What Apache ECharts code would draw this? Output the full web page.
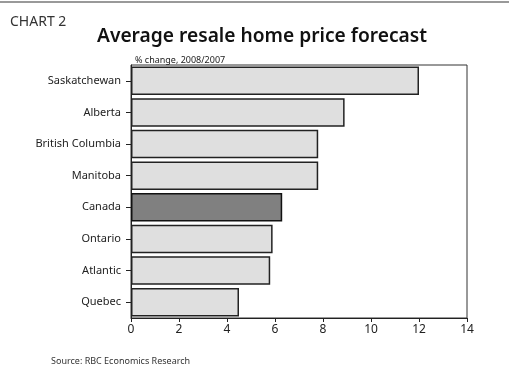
<!DOCTYPE html>
<html>
<head>
<meta charset="utf-8">
<script src="https://cdn.jsdelivr.net/npm/echarts@6/dist/echarts.min.js"></script>
<style>
  html, body { margin: 0; padding: 0; background: #fff; }
  #chart { width: 509px; height: 370px; }
</style>
</head>
<body>
<div id="chart"></div>
<script>
// Provinces / regions, top to bottom
const regions = ['Saskatchewan', 'Alberta', 'British Columbia', 'Manitoba', 'Canada', 'Ontario', 'Atlantic', 'Quebec'];
// Forecast % change in average resale home price, 2008 over 2007
const priceChange = [12.0, 8.9, 7.8, 7.8, 6.3, 5.9, 5.8, 4.5];
// Horizontal axis ticks
const xTicks = [0, 2, 4, 6, 8, 10, 12, 14];

const FONT = 'Noto Sans';
const chart = echarts.init(document.getElementById('chart'), null, { renderer: 'canvas' });

chart.setOption({
  animation: false,
  backgroundColor: '#ffffff',
  title: [
    { text: 'CHART 2', left: 5, top: 10,
      textStyle: { fontFamily: FONT, fontSize: 14, fontWeight: 'normal', color: '#333' } },
    { text: 'Average resale home price forecast', left: 92, top: 22,
      textStyle: { fontFamily: FONT, fontSize: 19.2, fontWeight: 600, color: '#111' } },
    { text: '% change, 2008/2007', left: 130, top: 51,
      textStyle: { fontFamily: FONT, fontSize: 9, fontWeight: 'normal', color: '#222' } },
    { text: 'Source: RBC Economics Research', left: 46, top: 352,
      textStyle: { fontFamily: FONT, fontSize: 9, fontWeight: 'normal', color: '#333' } }
  ],
  graphic: [
    { type: 'line', shape: { x1: 0, y1: 2, x2: 509, y2: 2 },
      style: { stroke: '#777', lineWidth: 1.5 } }
  ],
  grid: {
    left: 131, right: 42, top: 65, bottom: 52,
    show: true, borderColor: '#333', borderWidth: 1, backgroundColor: 'transparent'
  },
  xAxis: {
    type: 'value',
    min: xTicks[0], max: xTicks[xTicks.length - 1], interval: 2,
    axisLine: { show: true, lineStyle: { color: '#222', width: 1 } },
    axisTick: { show: true, length: 4, lineStyle: { color: '#222' } },
    axisLabel: { fontFamily: FONT, fontSize: 12, color: '#222', margin: 6 },
    splitLine: { show: false }
  },
  yAxis: {
    type: 'category',
    data: regions,
    inverse: true,
    axisLine: { show: true, lineStyle: { color: '#222', width: 1 } },
    axisTick: { show: true, alignWithLabel: true, length: 5, lineStyle: { color: '#222' } },
    axisLabel: { fontFamily: FONT, fontSize: 11, color: '#222', margin: 10 },
    splitLine: { show: false }
  },
  series: [{
    type: 'bar',
    data: priceChange.map((v, i) => ({
      value: v,
      itemStyle: regions[i] === 'Canada'
        ? { color: '#808080', borderColor: '#111', borderWidth: 1.5 }
        : { color: '#dfdfdf', borderColor: '#222', borderWidth: 1.5 }
    })),
    barCategoryGap: '10%',
    silent: true
  }]
});
</script>
</body>
</html>
